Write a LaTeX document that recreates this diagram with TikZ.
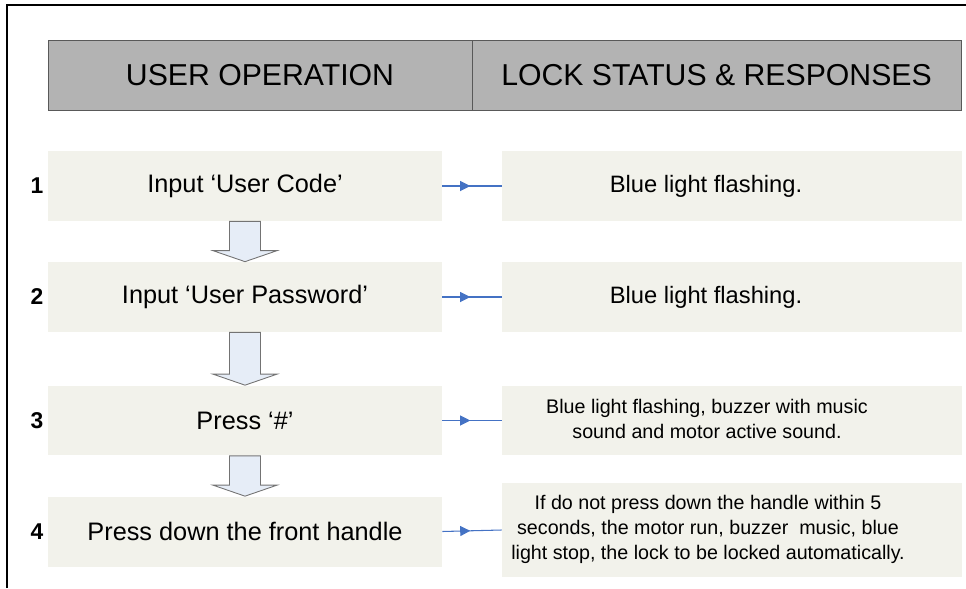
\documentclass[tikz,border=0pt]{standalone}
\usepackage{fontspec}
\setmainfont{Liberation Sans}
\usetikzlibrary{arrows.meta,calc,decorations.markings}
\definecolor{headgray}{RGB}{179,179,179}
\definecolor{boxfill}{RGB}{242,242,235}
\definecolor{linkblue}{RGB}{68,114,196}
\definecolor{flowfill}{RGB}{230,237,247}
\tikzset{head/.style = {draw=black!65, fill=headgray, rectangle, minimum height=1.4cm, font=\fontsize{17.2}{20}\selectfont},
         stepbox/.style = {fill=boxfill, rectangle, minimum height=1.4cm, minimum width=7.88cm, font=\fontsize{14.4}{17}\selectfont},
         reply/.style = {fill=boxfill, rectangle, minimum height=1.4cm, minimum width=9.2cm},
         replytext/.style = {align=center, font=\fontsize{11.2}{14.2}\selectfont},
         num/.style = {font=\bfseries\fontsize{13}{15}\selectfont},
         link/.style = {draw=linkblue, line width=0.6pt, postaction={decorate},
                        decoration={markings, mark=at position 0.47 with {\arrow[linkblue]{Triangle[length=5.7pt,width=5.7pt]}}}},
         flow/.style = {draw=black!55, fill=flowfill, line width=0.5pt, line join=miter}}

\begin{document}
\begin{tikzpicture}[x=0.02cm, y=-0.02cm]
        \useasboundingbox (0,0) rectangle (966,588);
        \draw[line width=1.1pt] (7,588) |- (966,5);
        \node[head, minimum width=8.48cm](h1)at(260,75){USER OPERATION};
        \node[head, minimum width=9.78cm](h2)at(716.5,75){LOCK STATUS \& RESPONSES};
        \node[stepbox](s1)at(245,186){Input ‘User Code’};
        \node[stepbox](s2)at(245,297){Input ‘User Password’};
        \node[stepbox](s3)at(245,420.5){Press ‘\#’};
        \node[stepbox](s4)at(245,531.5){Press down the front handle};
        \node[num](n1)at(37,186){1};
        \node[num](n2)at(37,297){2};
        \node[num](n3)at(37,420.5){3};
        \node[num](n4)at(37,531.5){4};
        \node[reply](r1)at(732,186){};
        \node[reply](r2)at(732,297){};
        \node[reply](r3)at(732,420.5){};
        \node[reply, minimum height=1.88cm](r4)at(732,530){};
        \node[replytext, font=\fontsize{13.5}{16}\selectfont](t1)at(706,186){Blue light flashing.};
        \node[replytext, font=\fontsize{13.5}{16}\selectfont](t2)at(706,297){Blue light flashing.};
        \node[replytext](t3)at(707,419){Blue light flashing, buzzer with music\\sound and motor active sound.};
        \node[replytext](t4)at(708,529){If do not press down the handle within 5\\seconds, the motor run, buzzer\ \ music, blue\\light stop, the lock to be locked automatically.};
        \foreach \i in {1,...,4}
            \draw[link](s\i.east)--(r\i.west);
        \foreach \a/\b in {s1/s2,s2/s3,s3/s4}
            \draw[flow]($(\a.south)+(-15.5,0)$)--($(\b.north)+(-15.5,-11)$)--++(-16.5,0)--(\b.north)
                --++(32,-11)--++(-16.5,0)--($(\a.south)+(15.5,0)$)--cycle;
    \end{tikzpicture}
\end{document}
